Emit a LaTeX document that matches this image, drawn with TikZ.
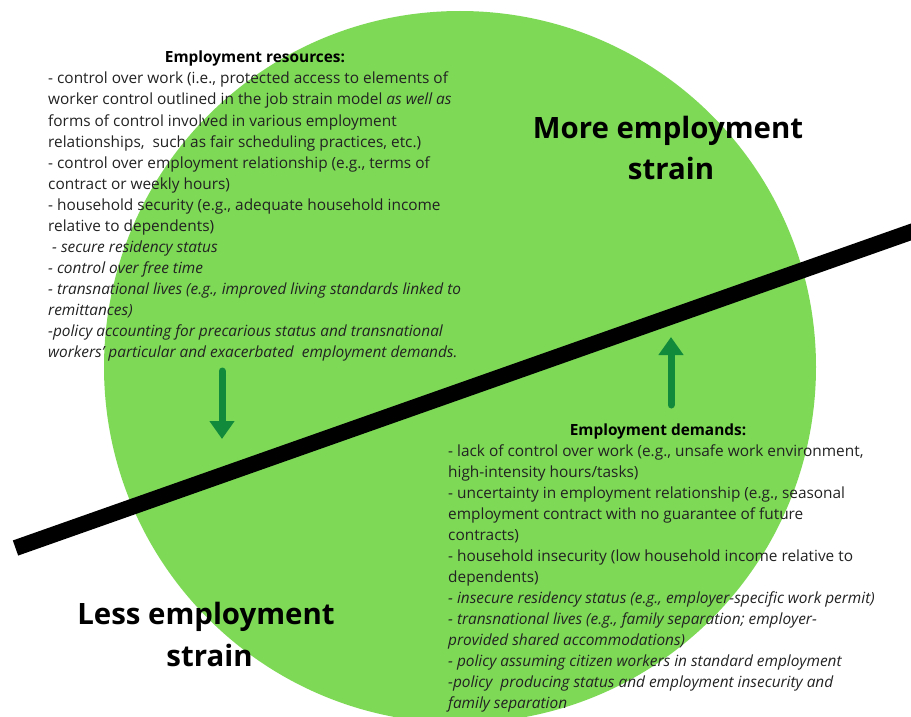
\documentclass[tikz,border=0pt]{standalone}
\usepackage{fontspec}
\setmainfont{Open Sans}
\usetikzlibrary{arrows.meta}
\definecolor{circgreen}{HTML}{7ED957}
\definecolor{arrgreen}{HTML}{118A3B}
\definecolor{txt}{HTML}{222222}
\tikzset{
  body/.style={anchor=base west, inner sep=0pt, text=txt, font=\fontsize{15.4}{21}\selectfont},
  ibody/.style={body, font=\fontsize{15.4}{21}\selectfont\itshape},
  head/.style={anchor=base, inner sep=0pt, text=black, font=\fontsize{15.4}{21}\selectfont\bfseries},
  big/.style={anchor=base, inner sep=0pt, text=black, font=\fontsize{29.4}{41}\selectfont\bfseries},
  garrow/.style={arrgreen, line width=7pt, line cap=round, -{Triangle[width=24pt,length=18pt]}}
}
\begin{document}
\begin{tikzpicture}[x=1pt,y=-1pt]
\useasboundingbox (0,0) rectangle (911,717);
\clip (0,0) rectangle (911,717);
\fill[circgreen] (460,367) circle[radius=356];
% divider line
\coordinate (ls) at (15.5,548);
\coordinate (le) at (935,223.5);
\draw[line width=16pt, black] (ls) -- (le);
% arrows
\coordinate (da1) at (222,371);
\coordinate (da2) at (222,439);
\draw[garrow] (da1) -- (da2);
\coordinate (ua1) at (671,405);
\coordinate (ua2) at (671,337);
\draw[garrow] (ua1) -- (ua2);
% big labels
\node[big] (m1) at (668,138) {More employment};
\node[big] (m2) at (671,179) {strain};
\node[big] (s1) at (206,624) {Less employment};
\node[big] (s2) at (209.5,666) {strain};
% resources
\node[head] (r0) at (255,63) {Employment resources:};
\node[body] (r1) at (48,84) {- control over work (i.e., protected access to elements of};
\node[body] (r2) at (48,105) {worker control outlined in the job strain model \textit{as well as}};
\node[body] (r3) at (48,126) {forms of control involved in various employment};
\node[body] (r4) at (48,147) {relationships,\ \ such as fair scheduling practices, etc.)};
\node[body] (r5) at (48,168) {- control over employment relationship (e.g., terms of};
\node[body] (r6) at (48,189) {contract or weekly hours)};
\node[body] (r7) at (48,210) {- household security (e.g., adequate household income};
\node[body] (r8) at (48,231) {relative to dependents)};
\node[ibody] (r9) at (52,252) {- secure residency status};
\node[ibody] (r10) at (48,273) {- control over free time};
\node[ibody] (r11) at (48,294) {- transnational lives (e.g., improved living standards linked to};
\node[ibody] (r12) at (48,315) {remittances)};
\node[ibody] (r13) at (48,336) {-policy accounting for precarious status and transnational};
\node[ibody] (r14) at (48,357) {workers' particular and exacerbated\ \ employment demands.};
% demands
\node[head] (d0) at (658,435) {Employment demands:};
\node[body] (d1) at (448,456) {- lack of control over work (e.g., unsafe work environment,};
\node[body] (d2) at (448,477) {high-intensity hours/tasks)};
\node[body] (d3) at (448,498) {- uncertainty in employment relationship (e.g., seasonal};
\node[body] (d4) at (448,519) {employment contract with no guarantee of future};
\node[body] (d5) at (448,540) {contracts)};
\node[body] (d6) at (448,561) {- household insecurity (low household income relative to};
\node[body] (d7) at (448,582) {dependents)};
\node[ibody] (d8) at (448,603) {- insecure residency status (e.g., employer-specific work permit)};
\node[ibody] (d9) at (448,624) {- transnational lives (e.g., family separation; employer-};
\node[ibody] (d10) at (448,645) {provided shared accommodations)};
\node[ibody] (d11) at (448,666) {- policy assuming citizen workers in standard employment};
\node[ibody] (d12) at (448,687) {-policy\ \ producing status and employment insecurity and};
\node[ibody] (d13) at (448,708) {family separation};
\end{tikzpicture}
\end{document}
